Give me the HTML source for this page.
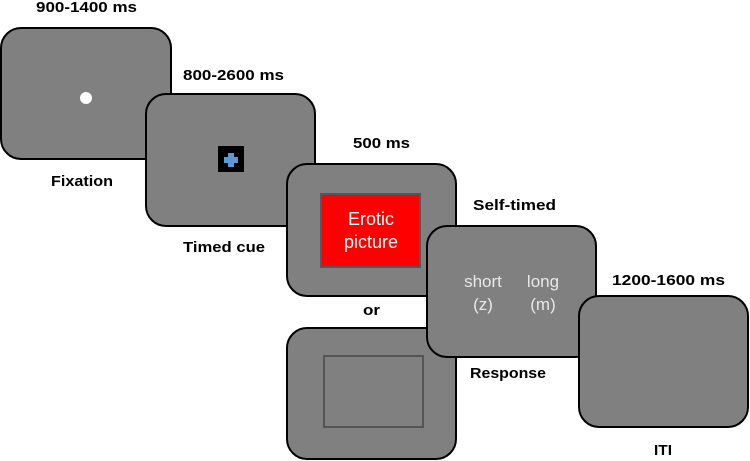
<!DOCTYPE html>
<html><head><meta charset="utf-8"><style>html,body{margin:0;padding:0;background:#fff}svg{display:block}</style></head>
<body>
<svg width="750" height="461" viewBox="0 0 750 461" xmlns="http://www.w3.org/2000/svg" font-family="'Liberation Sans', sans-serif">
<g fill="#808080" stroke="#000" stroke-width="2">
<rect x="1" y="28" width="170" height="131" rx="20"/>
<rect x="146" y="94" width="169" height="132" rx="20"/>
<rect x="287" y="164" width="169" height="132" rx="20"/>
<rect x="287" y="328" width="169" height="131" rx="20"/>
<rect x="427" y="226" width="169" height="131" rx="20"/>
<rect x="579" y="296" width="169" height="131" rx="20"/>
</g>
<circle cx="86" cy="98" r="6" fill="#fff"/>
<rect x="218" y="146" width="26" height="26" fill="#000"/>
<path d="M228 153h6v4h4v6h-4v4h-6v-4h-4v-6h4z" fill="#5b9bd5"/>
<rect x="321" y="194" width="99" height="73" fill="#ff0000" stroke="#505860" stroke-width="2"/>
<rect x="324" y="356" width="99" height="71" fill="none" stroke="#555" stroke-width="2"/>
<g fill="#fff" font-size="18" text-anchor="middle">
<text x="371" y="225">Erotic</text>
<text x="371" y="248">picture</text>
</g>
<g fill="#e8e8e8" font-size="17" text-anchor="middle">
<text x="483" y="287">short</text>
<text x="483" y="310">(z)</text>
<text x="543" y="287">long</text>
<text x="543" y="310">(m)</text>
</g>
<g fill="#000" font-size="15" font-weight="bold">
<text x="36" y="12" textLength="101" lengthAdjust="spacingAndGlyphs">900-1400 ms</text>
<text x="183" y="80" textLength="101" lengthAdjust="spacingAndGlyphs">800-2600 ms</text>
<text x="51" y="186" textLength="62" lengthAdjust="spacingAndGlyphs">Fixation</text>
<text x="183" y="252" textLength="82" lengthAdjust="spacingAndGlyphs">Timed cue</text>
<text x="353" y="148" textLength="57" lengthAdjust="spacingAndGlyphs">500 ms</text>
<text x="473" y="210" textLength="83" lengthAdjust="spacingAndGlyphs">Self-timed</text>
<text x="363" y="315" textLength="17" lengthAdjust="spacingAndGlyphs">or</text>
<text x="470" y="378" textLength="76" lengthAdjust="spacingAndGlyphs">Response</text>
<text x="612" y="285" textLength="113" lengthAdjust="spacingAndGlyphs">1200-1600 ms</text>
<text x="654" y="455" textLength="18" lengthAdjust="spacingAndGlyphs">ITI</text>
</g>
</svg>
</body></html>
